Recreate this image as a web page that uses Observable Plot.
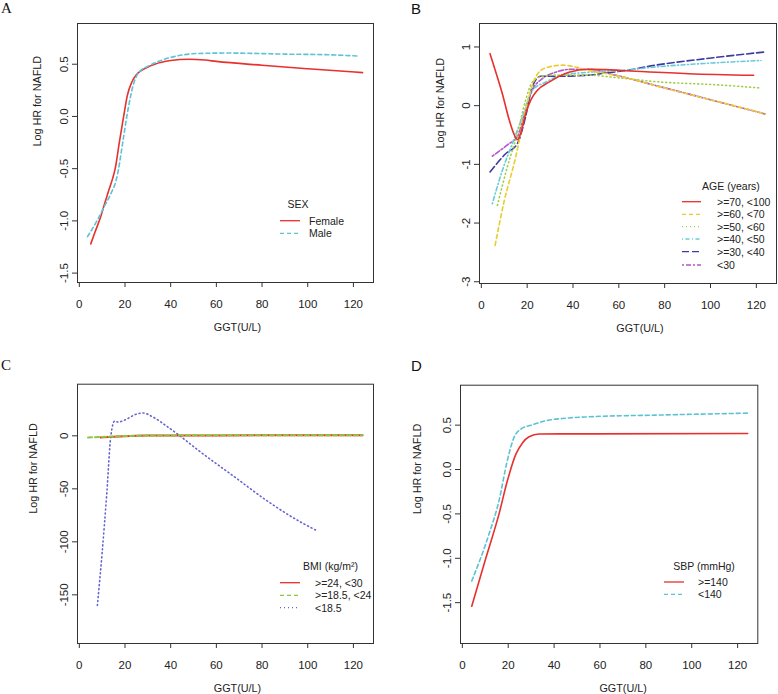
<!DOCTYPE html>
<html>
<head>
<meta charset="utf-8">
<script src="https://cdn.jsdelivr.net/npm/d3@7"></script>
<script src="https://cdn.jsdelivr.net/npm/@observablehq/plot@0.6"></script>
<style>
  html, body { margin: 0; padding: 0; background: #fff; }
  #wrap { position: relative; width: 778px; height: 694px; background: #fff; overflow: hidden; }
  .cell { position: absolute; width: 389px; height: 347px; }
  .letter { position: absolute; font-size: 15px; color: #111; line-height: 1; }
  .serif { font-family: "Liberation Serif", "DejaVu Serif", serif; }
  .sans { font-family: "Liberation Sans", Arial, sans-serif; }
</style>
</head>
<body>
<div id="wrap">
  <div class="cell" id="pA" style="left:0;top:0"></div>
  <div class="cell" id="pB" style="left:389px;top:0"></div>
  <div class="cell" id="pC" style="left:0;top:347px"></div>
  <div class="cell" id="pD" style="left:389px;top:347px"></div>
  <div class="letter serif" style="left:1px;top:1px;font-size:15px">A</div>
  <div class="letter sans" style="left:411px;top:1px;font-size:15px">B</div>
  <div class="letter serif" style="left:1px;top:358px;font-size:15px">C</div>
  <div class="letter sans" style="left:411px;top:358px;font-size:15px">D</div>
</div>
<script>
// ---------- shared axis text ----------
const xTitle = "GGT(U/L)";
const yTitle = "Log HR for NAFLD";
const xTicks = [0, 20, 40, 60, 80, 100, 120];

// ---------- Panel A: SEX ----------
const legendTitleA = "SEX";
const seriesA = ["Female", "Male"];
const yTicksA = [-1.5, -1.0, -0.5, 0.0, 0.5];
const ggtA_female = [5, 7, 9.2, 11, 13, 14.5, 15.7, 17.5, 19.4, 21, 23, 25, 28, 33, 40, 48, 55, 60, 80, 100, 124];
const hrA_female  = [-1.22, -1.10, -0.97, -0.84, -0.70, -0.60, -0.50, -0.25, 0.0, 0.2, 0.33, 0.40, 0.45, 0.50, 0.535, 0.548, 0.54, 0.527, 0.49, 0.457, 0.42];
const ggtA_male = [3.6, 7.7, 11, 14, 16, 17.2, 19, 20.8, 22.5, 24, 26, 30, 35, 40, 45, 52, 65, 90, 110, 122];
const hrA_male  = [-1.15, -1.0, -0.86, -0.73, -0.62, -0.5, -0.25, 0.0, 0.2, 0.33, 0.42, 0.48, 0.53, 0.565, 0.588, 0.603, 0.607, 0.597, 0.59, 0.578];

// ---------- Panel B: AGE ----------
const legendTitleB = "AGE (years)";
const seriesB = [">=70, <100", ">=60, <70", ">=50, <60", ">=40, <50", ">=30, <40", "<30"];
const yTicksB = [-3, -2, -1, 0, 1];
const ggtB_70 = [3.8, 6.5, 9.2, 12, 14.2, 15.7, 17.1, 19.3, 21.5, 24.4, 29.5, 38.2, 46.9, 54.2, 61.4, 90.5, 118.8];
const hrB_70  = [0.886, 0.55, 0.2, -0.22, -0.48, -0.58, -0.48, -0.14, 0.09, 0.26, 0.4, 0.57, 0.62, 0.614, 0.6, 0.545, 0.517];
const ggtB_60 = [6, 9.9, 15, 19.3, 23, 25.9, 29.5, 35.3, 41.1, 46.9, 60, 80, 100, 124];
const hrB_60  = [-2.38, -1.64, -0.875, -0.08, 0.43, 0.6, 0.66, 0.69, 0.66, 0.6, 0.505, 0.30, 0.10, -0.14];
const ggtB_50 = [7, 11.3, 15.7, 19.3, 22.2, 26.6, 32.4, 46.9, 58.5, 75.9, 105, 122];
const hrB_50  = [-1.7, -1.05, -0.48, 0.09, 0.4, 0.5, 0.52, 0.52, 0.48, 0.41, 0.35, 0.30];
const ggtB_40 = [4.8, 9.2, 13.5, 17.9, 22.2, 28, 35.3, 46.9, 61.4, 76, 97.7, 122];
const hrB_40  = [-1.67, -1.1, -0.65, -0.19, 0.26, 0.4, 0.52, 0.57, 0.6, 0.66, 0.72, 0.77];
const ggtB_30 = [3.8, 10.6, 15.7, 19.3, 22.2, 25.9, 32.4, 46.9, 54.2, 61.4, 76, 97.7, 123.6];
const hrB_30  = [-1.13, -0.82, -0.65, -0.19, 0.32, 0.5, 0.5, 0.52, 0.557, 0.59, 0.69, 0.8, 0.915];
const ggtB_0 = [4.8, 12, 15.7, 19.3, 22.2, 26.6, 32.4, 39.7, 46.9, 58.5, 75.9, 97.7, 123.6];
const hrB_0  = [-0.86, -0.65, -0.53, -0.08, 0.26, 0.46, 0.57, 0.62, 0.62, 0.52, 0.345, 0.125, -0.14];

// ---------- Panel C: BMI ----------
const legendTitleC = "BMI (kg/m\u00B2)";
const seriesC = [">=24, <30", ">=18.5, <24", "<18.5"];
const yTicksC = [-150, -100, -50, 0];
const ggtC_24 = [9.3, 15, 20, 30, 60, 124];
const hrC_24  = [-1.5, -0.8, -0.3, 0.2, 0.4, 0.5];
const ggtC_18 = [3.8, 10, 15, 20, 30, 60, 124];
const hrC_18  = [-1.5, -1.0, -0.6, -0.2, 0.3, 0.5, 0.6];
const ggtC_0 = [7.9, 10, 12, 13.8, 15.5, 17, 20, 25, 28, 32, 38, 44, 52.9, 67.5, 82, 96.6, 103.6];
const hrC_0  = [-160, -110, -55, 0, 14, 13, 15, 20.5, 21.5, 18, 9.5, 0, -15, -38, -61, -81, -89];

// ---------- Panel D: SBP ----------
const legendTitleD = "SBP (mmHg)";
const seriesD = [">=140", "<140"];
const yTicksD = [-1.5, -1.0, -0.5, 0.0, 0.5];
const ggtD_high = [4.1, 10, 16, 19.6, 23.3, 26.2, 29.1, 33.5, 55.3, 124.4];
const hrD_high  = [-1.54, -1.02, -0.5, -0.13, 0.17, 0.30, 0.37, 0.40, 0.402, 0.406];
const ggtD_low = [4.1, 11.6, 16, 19.6, 22.5, 25.5, 30.5, 36.4, 43.6, 55.3, 84.4, 124.4];
const hrD_low  = [-1.256, -0.73, -0.35, 0.1, 0.36, 0.455, 0.504, 0.55, 0.575, 0.594, 0.613, 0.635];

// ---------- styles ----------
const RED = "#E8302C";
const FONT = "Liberation Sans, Arimo, Arial, Helvetica, sans-serif";
const dash = {solid: null, dashed: "4,3", dotted: "1,3", dotdash: "1,2.5,4,2.5", longdash: "7,3", twodash: "2,2,5,2"};

function table(xs, ys) { return xs.map((x, i) => ({ggt: x, hr: ys[i]})); }

function line(xs, ys, color, d, w = 1.6) {
  return Plot.line(table(xs, ys), {x: "ggt", y: "hr", stroke: color, strokeWidth: w,
    strokeDasharray: d || undefined, curve: "monotone-x"});
}

function panel({el, m, yDomain, yTicks, yFmt, lines, yTitleDx, yTitleDy, xTitleDx, legend}) {
  const svg = Plot.plot({
    width: 389, height: 347,
    marginLeft: m[0], marginRight: m[1], marginTop: m[2], marginBottom: m[3],
    x: {domain: [-0.8, 128.8]},
    y: {domain: yDomain},
    style: {fontFamily: FONT, fontSize: "11.5px", color: "#222", background: "white", overflow: "visible"},
    marks: [
      Plot.axisX({ticks: xTicks, tickSize: 5, tickPadding: 12, label: null, stroke: "#333"}),
      Plot.axisY({ticks: yTicks, tickSize: 5, tickPadding: 5, tickRotate: -90, tickFormat: yFmt, label: null, stroke: "#333"}),
      ...lines,
      Plot.frame({stroke: "#333", strokeWidth: 1}),
      Plot.text([xTitle], {text: d => d, frameAnchor: "bottom", dy: 45, dx: xTitleDx, lineAnchor: "middle", fontSize: 10.8, fill: "#222"}),
      Plot.text([yTitle], {text: d => d, frameAnchor: "left", dx: yTitleDx, dy: yTitleDy, rotate: -90, lineAnchor: "middle", fontSize: 10.8, fill: "#222"})
    ]
  });
  // legend (layout only)
  const g = d3.select(svg).append("g")
    .attr("font-family", FONT)
    .attr("font-size", 10.5).attr("fill", "#222");
  g.append("text").attr("x", legend.titleX).attr("y", legend.titleY)
    .attr("text-anchor", "middle").attr("dominant-baseline", "central").text(legend.title);
  legend.items.forEach((it, i) => {
    const y = legend.rowsY[i];
    g.append("line").attr("x1", legend.x1).attr("x2", legend.x2).attr("y1", y).attr("y2", y)
      .attr("stroke", it.color).attr("stroke-width", 1.3)
      .attr("stroke-dasharray", it.dash || null);
    g.append("text").attr("x", legend.textX).attr("y", y)
      .attr("text-anchor", "start")
      .attr("dominant-baseline", "central").text(it.label);
  });
  document.getElementById(el).appendChild(svg);
}

const f1 = d => d.toFixed(1);
const f0 = d => String(d);

// Panel A
const colA = [RED, "#5BC5D5"];
const dashA = [dash.solid, dash.dashed];
panel({
  el: "pA", m: [77, 16, 23, 65], yDomain: [-1.59, 0.89], yTicks: yTicksA, yFmt: f1,
  lines: [line(ggtA_female, hrA_female, colA[0], dashA[0]), line(ggtA_male, hrA_male, colA[1], dashA[1])],
  yTitleDx: -39.5, yTitleDy: -6.5, xTitleDx: 12,
  legend: {title: legendTitleA, titleX: 298, titleY: 204, x1: 280, x2: 300, textX: 309, rowsY: [220.7, 233.3],
    items: seriesA.map((s, i) => ({label: s, color: colA[i], dash: dashA[i]}))}
});

// Panel B
const colB = [RED, "#E9CC2E", "#A2CF48", "#6ACBDA", "#3C3CA0", "#B455C8"];
const dashB = [dash.solid, dash.dashed, dash.dotted, dash.dotdash, dash.longdash, dash.twodash];
const xsB = [ggtB_70, ggtB_60, ggtB_50, ggtB_40, ggtB_30, ggtB_0];
const ysB = [hrB_70, hrB_60, hrB_50, hrB_40, hrB_30, hrB_0];
panel({
  el: "pB", m: [90, 2, 23, 64], yDomain: [-3.03, 1.40], yTicks: yTicksB, yFmt: f0,
  lines: xsB.map((xs, i) => line(xs, ysB[i], colB[i], dashB[i])).reverse(),
  yTitleDx: -39, yTitleDy: -5, xTitleDx: 12,
  legend: {title: legendTitleB, titleX: 342, titleY: 185.7, x1: 293, x2: 312, textX: 328,
    rowsY: [201.7, 214.3, 226.7, 239, 251.7, 265],
    items: seriesB.map((s, i) => ({label: s, color: colB[i], dash: dashB[i]}))}
});

// Panel C
const colC = [RED, "#8DC63F", "#6464D2"];
const dashC = [dash.solid, dash.dashed, dash.dotted];
panel({
  el: "pC", m: [77, 16, 36.7, 51], yDomain: [-195.9, 48.7], yTicks: yTicksC, yFmt: f0,
  lines: [line(ggtC_0, hrC_0, colC[2], dashC[2], 1.6), line(ggtC_24, hrC_24, colC[0], dashC[0], 2), line(ggtC_18, hrC_18, colC[1], dashC[1], 2)],
  yTitleDx: -43.5, yTitleDy: 0, xTitleDx: 12,
  legend: {title: legendTitleC, titleX: 330.5, titleY: 219, x1: 280, x2: 300, textX: 315, rowsY: [235.7, 248.3, 260.7],
    items: seriesC.map((s, i) => ({label: s, color: colC[i], dash: dashC[i]}))}
});

// Panel D
const colD = [RED, "#5CC3D3"];
const dashD = [dash.solid, dash.dashed];
panel({
  el: "pD", m: [71, 20.7, 37.7, 51], yDomain: [-1.96, 0.95], yTicks: yTicksD, yFmt: f1,
  lines: [line(ggtD_high, hrD_high, colD[0], dashD[0]), line(ggtD_low, hrD_low, colD[1], dashD[1])],
  yTitleDx: -42.5, yTitleDy: 0, xTitleDx: 14,
  legend: {title: legendTitleD, titleX: 315, titleY: 219, x1: 275, x2: 295, textX: 309, rowsY: [235, 247.3],
    items: seriesD.map((s, i) => ({label: s, color: colD[i], dash: dashD[i]}))}
});
</script>
</body>
</html>
